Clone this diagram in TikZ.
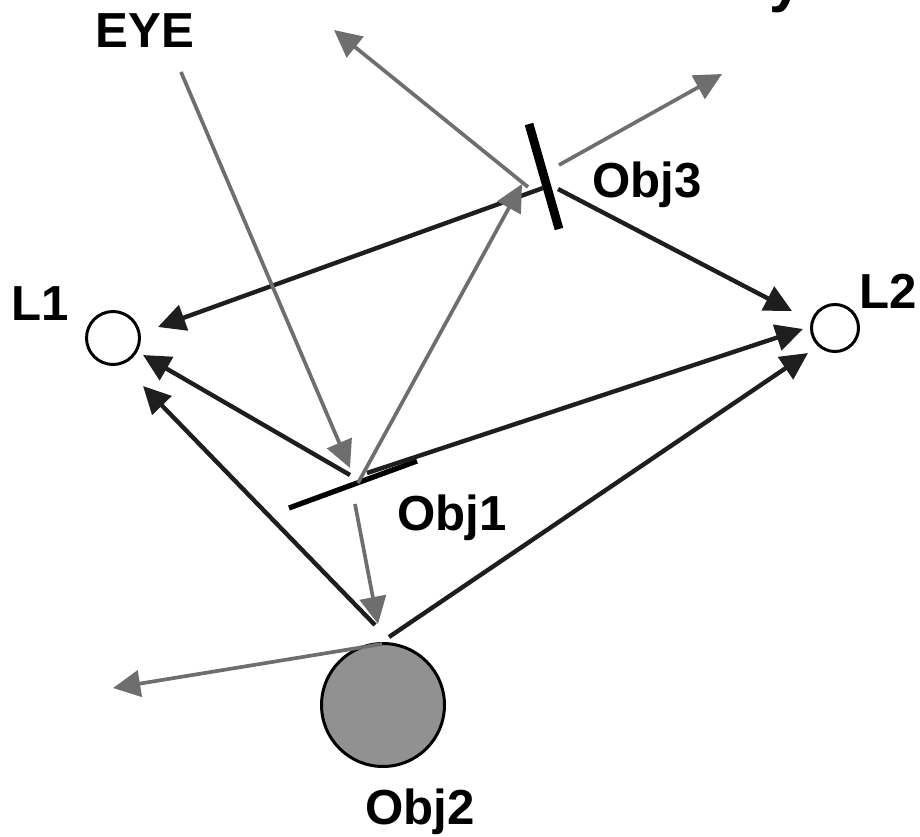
\documentclass[tikz,border=0pt]{standalone}
\usepackage{fontspec}
\setmainfont{Liberation Sans}
\usetikzlibrary{arrows.meta}
\definecolor{raygray}{HTML}{6E6E6E}
\definecolor{raydark}{HTML}{1E1E1E}
\definecolor{ballgray}{HTML}{919191}

\begin{document}
\begin{tikzpicture}[x=0.02cm,y=-0.02cm,
  lbl/.style={font=\fontsize{28}{34}\selectfont\bfseries,anchor=base,inner sep=0pt},
  shadowray/.style={raydark,line width=2.5pt,-{Triangle[length=15.5pt,width=15pt]}},
  eyeray/.style={raygray,line width=2.1pt,-{Triangle[length=15.5pt,width=15pt]}},
  lamp/.style={circle,draw,line width=1.7pt,inner sep=0pt}]
\useasboundingbox (0,0) rectangle (920,836);
% title, only its descender is on the page
\node[font=\fontsize{34}{40}\selectfont\bfseries,anchor=base,inner sep=0pt] (title) at (786,0) {y};
% lights and the sphere
\node[lamp,minimum size=1.06cm] (L1) at (113,338) {};
\node[lamp,minimum size=0.94cm] (L2) at (835,328) {};
\node[lamp,fill=ballgray,minimum size=2.46cm] (obj2) at (383,705) {};
% flat objects
\draw[line width=5pt] (529,124) coordinate (o3top) -- (559,229) coordinate (o3bot);
\draw[line width=3pt] (289,508) coordinate (o1left) -- (417,461) coordinate (o1right);
% labels
\node[lbl] (eyelbl) at (145,47) {EYE};
\node[lbl] (l1lbl) at (40,320) {L1};
\node[lbl] (l2lbl) at (888,308) {L2};
\node[lbl] (obj1lbl) at (452,530) {Obj1};
\node[lbl] (obj3lbl) at (647,197) {Obj3};
\node[lbl] (obj2lbl) at (420,824) {Obj2};
% ray ends
\coordinate (eye) at (181,72);
\coordinate (hit1) at (350,468);
\coordinate (o1up) at (358,483);
\coordinate (hit3) at (522,184);
\coordinate (o3refl) at (528,187);
\coordinate (refl3) at (334,30);
\coordinate (o3trans) at (559,165);
\coordinate (trans3) at (722,74);
\coordinate (o1down) at (355,504);
\coordinate (hit2) at (378,624);
\coordinate (o2refl) at (382,644);
\coordinate (refl2) at (113,688);
% shadow ray ends
\coordinate (s3a) at (543,188);
\coordinate (s3b) at (558,189);
\coordinate (s1a) at (350,475);
\coordinate (s1b) at (367,473);
\coordinate (s2a) at (375,625);
\coordinate (s2b) at (389,637);
\coordinate (l1a) at (158,327);
\coordinate (l1b) at (143,355);
\coordinate (l1c) at (143,386);
\coordinate (l2a) at (792,311);
\coordinate (l2b) at (803,329);
\coordinate (l2c) at (808,353);
% shadow rays
\draw[shadowray] (s3a) -- (l1a);
\draw[shadowray] (s3b) -- (l2a);
\draw[shadowray] (s1a) -- (l1b);
\draw[shadowray] (s1b) -- (l2b);
\draw[shadowray] (s2a) -- (l1c);
\draw[shadowray] (s2b) -- (l2c);
% eye rays
\draw[eyeray] (eye) -- (hit1);
\draw[eyeray] (o1up) -- (hit3);
\draw[eyeray] (o3refl) -- (refl3);
\draw[eyeray] (o3trans) -- (trans3);
\draw[eyeray] (o1down) -- (hit2);
\draw[eyeray] (o2refl) -- (refl2);
\end{tikzpicture}
\end{document}
